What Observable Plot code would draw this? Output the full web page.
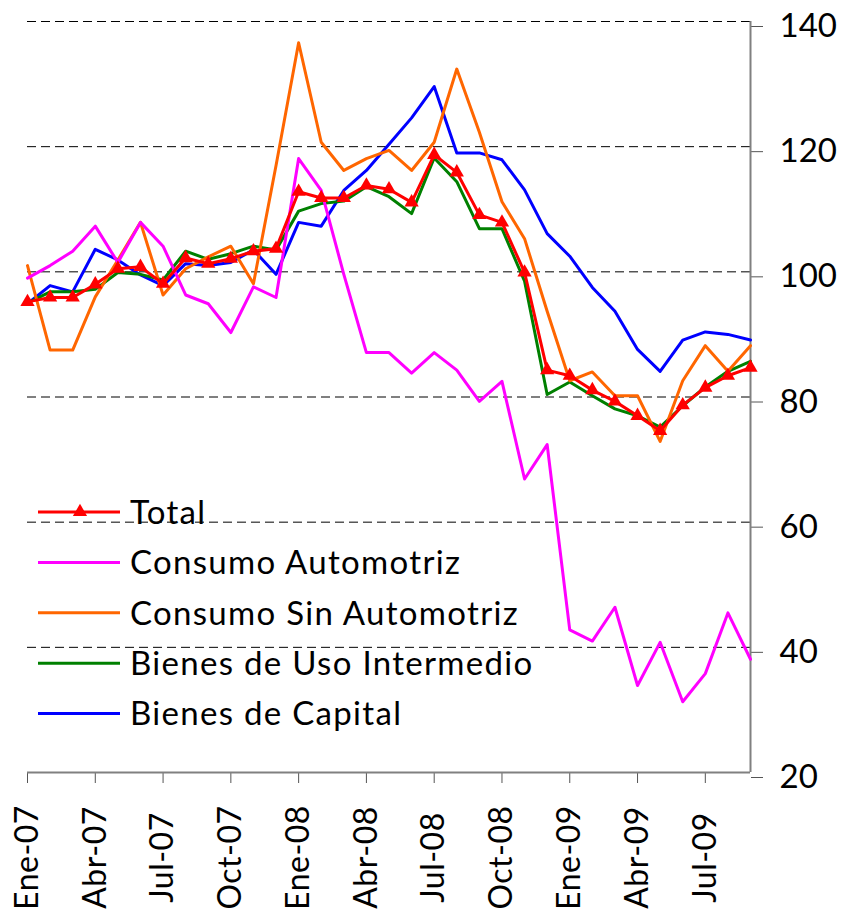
<!DOCTYPE html>
<html><head><meta charset="utf-8">
<script src="https://cdn.jsdelivr.net/npm/d3@7"></script>
<script src="https://cdn.jsdelivr.net/npm/@observablehq/plot@0.6"></script>
<style>
body{margin:0;background:#fff;overflow:hidden;}
#chart{width:841px;height:909px;overflow:hidden;}
</style>
</head><body><div id="chart"></div>
<script>
const months = [
  "Ene-07","Feb-07","Mar-07","Abr-07","May-07","Jun-07","Jul-07","Ago-07","Sep-07","Oct-07","Nov-07","Dic-07",
  "Ene-08","Feb-08","Mar-08","Abr-08","May-08","Jun-08","Jul-08","Ago-08","Sep-08","Oct-08","Nov-08","Dic-08",
  "Ene-09","Feb-09","Mar-09","Abr-09","May-09","Jun-09","Jul-09","Ago-09","Sep-09"
];
const total = [
  95.2, 95.9, 95.9, 98.0, 100.5, 100.8, 98.1, 102.2, 101.3, 102.1, 103.3, 103.7,
  112.8, 111.8, 111.8, 113.8, 113.2, 111.1, 118.7, 115.9, 109.1, 107.9, 99.9, 84.3,
  83.4, 81.1, 79.3, 77.0, 74.6, 78.7, 81.5, 83.4, 84.7
];
const consumoAutomotriz = [
  99.0, 101.0, 103.3, 107.3, 101.5, 107.9, 104.1, 96.3, 94.9, 90.3, 97.6, 95.9,
  118.1, 113.0, 99.6, 87.1, 87.1, 83.8, 87.1, 84.3, 79.3, 82.5, 66.9, 72.4,
  42.8, 41.0, 46.4, 33.9, 40.8, 31.3, 35.8, 45.5, 38.1
];
const consumoSinAutomotriz = [
  101.0, 87.5, 87.5, 96.0, 101.9, 107.9, 96.3, 100.5, 102.4, 104.1, 98.1, 117.0,
  136.6, 120.7, 116.2, 118.1, 119.4, 116.2, 120.7, 132.4, 122.3, 111.2, 105.3, 93.7,
  82.6, 84.0, 80.2, 80.2, 72.9, 82.6, 88.2, 84.1, 88.2
];
const usoIntermedio = [
  95.0, 96.8, 96.8, 97.2, 99.9, 99.6, 98.7, 103.3, 102.0, 102.9, 104.1, 103.5,
  109.7, 110.9, 111.3, 113.6, 112.0, 109.3, 118.2, 114.4, 106.9, 106.9, 98.5, 80.4,
  82.4, 80.2, 78.1, 77.0, 75.2, 78.6, 81.6, 84.1, 85.7
];
const bienesCapital = [
  94.9, 97.8, 96.8, 103.6, 101.9, 99.5, 97.8, 101.3, 101.0, 101.5, 103.5, 99.6,
  107.9, 107.3, 113.0, 116.2, 120.4, 124.6, 129.6, 119.0, 119.0, 117.9, 113.1, 106.1,
  102.5, 97.5, 93.7, 87.6, 84.1, 89.1, 90.4, 90.0, 89.1
];
const seriesNames = ["Total","Consumo Automotriz","Consumo Sin Automotriz","Bienes de Uso Intermedio","Bienes de Capital"];
const seriesColors = ["#FF0000","#FF00FF","#FF6600","#008000","#0000FF"];
const yTicks = [20,40,60,80,100,120,140];
const xTickIndex = months.map((d,i)=>i).filter(i=>i%3===0);

const seriesValues = [total, consumoAutomotriz, consumoSinAutomotriz, usoIntermedio, bienesCapital];
// draw in reverse so Total is on top
const rows = [];
for (let k = seriesNames.length - 1; k >= 0; k--) {
  months.forEach((m,i)=>rows.push({serie: seriesNames[k], idx: i, month: m, value: seriesValues[k][i]}));
}
const totalRows = rows.filter(d=>d.serie==="Total");
const lastIdx = months.length - 1;

const plot = Plot.plot({
  width: 841, height: 909,
  marginLeft: 27, marginRight: 91, marginTop: 21, marginBottom: 137,
  style: {fontFamily: "Lato, sans-serif", background: "#fff", color: "#000"},
  x: {type: "linear", domain: [0, lastIdx], label: null},
  y: {domain: [20, 140], label: null},
  color: {domain: seriesNames, range: seriesColors},
  marks: [
    Plot.ruleY(yTicks.filter(d=>d>20), {stroke: "#000", strokeDasharray: "9,5", strokeWidth: 1}),
    Plot.axisY({anchor: "right", ticks: yTicks, tickSize: 12, tickPadding: 17, fontSize: 33, dy: 5, stroke: "#555", label: null, tickFormat: d=>String(d)}),
    Plot.axisX({ticks: xTickIndex, tickRotate: -90, tickSize: 11, tickPadding: 74, fontSize: 32, textAnchor: "middle", stroke: "#555", label: null, tickFormat: i=>months[i]}),
    Plot.ruleX([lastIdx], {y1: 20, y2: 140, stroke: "#808080", strokeWidth: 2}),
    Plot.ruleY([20], {stroke: "#808080", strokeWidth: 2}),
    Plot.lineY(rows, {x: "idx", y: "value", z: "serie", stroke: "serie", strokeWidth: 3}),
    Plot.dot(totalRows, {x: "idx", y: "value", symbol: "triangle", r: 5.3, fill: "#FF0000", stroke: "none"})
  ]
});
document.getElementById("chart").appendChild(plot);

const svg = d3.select(plot);
svg.selectAll("g[aria-label='x-axis tick label'] text").style("letter-spacing", "0.5px");

const lg = svg.append("g").attr("font-family", "Lato, sans-serif").attr("font-size", 33)
  .attr("fill", "#000").attr("text-anchor", "start");
seriesNames.forEach((name, k) => {
  const y = 512 + k * 50.4;
  lg.append("line").attr("x1", 38).attr("x2", 120).attr("y1", y).attr("y2", y)
    .attr("stroke", seriesColors[k]).attr("stroke-width", 3);
  if (k === 0) lg.append("path").attr("d", d3.symbol(d3.symbolTriangle, 88)())
    .attr("transform", `translate(80,${y})`).attr("fill", seriesColors[0]);
  lg.append("text").attr("x", 130).attr("y", y).attr("dy", "0.36em").style("letter-spacing", "1.3px").text(name);
});
</script>
</body></html>
